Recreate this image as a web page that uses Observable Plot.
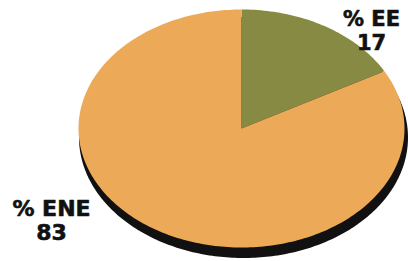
<!DOCTYPE html>
<html><head><meta charset="utf-8">
<script src="https://cdn.jsdelivr.net/npm/d3@7"></script>
<script src="https://cdn.jsdelivr.net/npm/@observablehq/plot@0.6"></script>
<style>html,body{margin:0;padding:0;background:#fff;}</style>
</head><body><div id="chart"></div>
<script>
const categories = ["% EE", "% ENE"];
const values = [17, 83];
const colors = ["#878a42", "#ecaa58"];

// build slice polygons (unit circle, stretched to an ellipse by the scales)
const arcs = d3.pie().sort(null).startAngle(0).endAngle(2 * Math.PI)(values);
const slices = [];
arcs.forEach((a, i) => {
  const n = Math.max(4, Math.ceil((a.endAngle - a.startAngle) / 0.02));
  slices.push({name: categories[i], x: 0, y: 0});
  for (let k = 0; k <= n; k++) {
    const t = a.startAngle + (a.endAngle - a.startAngle) * k / n;
    slices.push({name: categories[i], x: Math.sin(t), y: Math.cos(t)});
  }
  slices.push({name: categories[i], x: 0, y: 0});
});
const rim = d3.range(0, 361).map(deg => ({x: Math.sin(deg * Math.PI / 180), y: Math.cos(deg * Math.PI / 180)}));

const labels = [
  {text: categories[0] + "\n" + values[0]},
  {text: categories[1] + "\n" + values[1]}
];

const font = {fontWeight: "bold", fontFamily: "DejaVu Sans, Liberation Sans, sans-serif", fill: "#111", stroke: "#111", strokeWidth: 0.6, textAnchor: "middle", lineAnchor: "top", frameAnchor: "top-left"};

const chart = Plot.plot({
  width: 408, height: 261,
  margin: 0,
  x: {domain: [-1, 1], range: [78, 404], axis: null},
  y: {domain: [-1, 1], range: [247, 9], axis: null},
  color: {domain: categories, range: colors},
  marks: [
    Plot.line(rim, {x: "x", y: "y", fill: "#111", stroke: "#111", strokeWidth: 3, dx: 2, dy: 9}),
    Plot.line(slices, {x: "x", y: "y", z: "name", fill: "name", stroke: "none"}),
    Plot.text([labels[0]], {text: "text", dx: 371, dy: 8, fontSize: 21, lineHeight: 1.15, ...font}),
    Plot.text([labels[1]], {text: "text", dx: 51, dy: 199, fontSize: 22, lineHeight: 1.07, ...font})
  ]
});
document.getElementById("chart").appendChild(chart);
</script>
</body></html>
